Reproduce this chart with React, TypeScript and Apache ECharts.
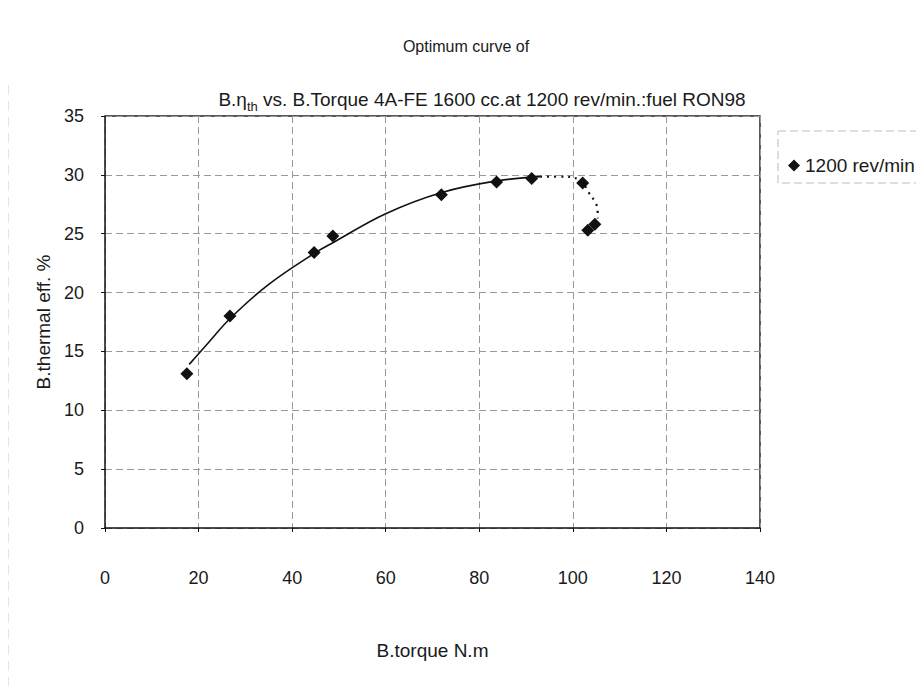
import React, { useEffect, useRef } from "react";
import * as echarts from "echarts";

const seriesName = "1200 rev/min";
const torque = [17.5, 26.7, 44.7, 48.7, 71.9, 83.7, 91.2, 102.1, 103.2, 104.7];
const thermalEff = [13.1, 18.0, 23.4, 24.8, 28.3, 29.4, 29.7, 29.3, 25.3, 25.8];

// trend curve (solid part, then dotted end part)
const trendSolidX = [18, 22, 27, 35, 45, 49, 60, 72, 84, 93];
const trendSolidY = [13.9, 15.7, 17.9, 20.7, 23.4, 24.3, 26.7, 28.5, 29.5, 29.85];
const trendDotX = [93, 97, 101.5, 103.2, 104.7, 105.3, 105.3];
const trendDotY = [29.85, 29.85, 29.6, 28.6, 27.7, 27.0, 26.3];

const xTicks = { min: 0, max: 140, interval: 20 };
const yTicks = { min: 0, max: 35, interval: 5 };

const FONT = "'Liberation Sans', Arial, sans-serif";
const INK = "#1a1a1a";

export default function App() {
  const ref = useRef<HTMLDivElement>(null);
  useEffect(() => {
    if (!ref.current) return;
    const chart = echarts.init(ref.current, undefined, { renderer: "svg" });
    const pts = torque.map((x, i) => [x, thermalEff[i]]);
    const solid = trendSolidX.map((x, i) => [x, trendSolidY[i]]);
    const dotted = trendDotX.map((x, i) => [x, trendDotY[i]]);
    chart.setOption({
      animation: false,
      backgroundColor: "#fff",
      textStyle: { fontFamily: FONT },
      title: [
        {
          text: "Optimum curve of",
          left: 461,
          top: 33,
          textAlign: "center",
          textStyle: { fontSize: 16, fontWeight: "normal", color: INK, fontFamily: FONT },
        },
        {
          text: "{a|B.η}{s|th}{a| vs. B.Torque 4A-FE 1600 cc.at 1200 rev/min.:fuel RON98}",
          left: 477,
          top: 82,
          textAlign: "center",
          textStyle: {
            fontSize: 19,
            fontWeight: "normal",
            color: INK,
            fontFamily: FONT,
            rich: {
              a: { fontSize: 19, color: INK, fontFamily: FONT, verticalAlign: "bottom", lineHeight: 22 },
              s: { fontSize: 13, color: INK, fontFamily: FONT, verticalAlign: "bottom", lineHeight: 14, padding: [0, 0, -4, 0] },
            },
          },
        },
      ],
      grid: { left: 105, right: 164, top: 116, bottom: 166 },
      legend: {
        left: 783,
        top: 151,
        icon: "diamond",
        itemWidth: 12,
        itemHeight: 12,
        itemGap: 6,
        data: [seriesName],
        textStyle: { fontSize: 19, color: INK, fontFamily: FONT },
      },
      xAxis: {
        type: "value",
        ...xTicks,
        name: "B.torque N.m",
        nameLocation: "middle",
        nameGap: 113,
        nameTextStyle: { fontSize: 19, color: INK, fontFamily: FONT },
        axisLine: { show: true, onZero: false, lineStyle: { color: "#111", width: 1.5 } },
        axisTick: { show: true, length: 4, lineStyle: { color: "#111" } },
        axisLabel: { margin: 41, fontSize: 18, color: INK, fontFamily: FONT },
        splitLine: { show: true, lineStyle: { color: "#999", width: 1, type: [7, 4] } },
      },
      yAxis: {
        type: "value",
        ...yTicks,
        name: "B.thermal eff. %",
        nameLocation: "middle",
        nameGap: 47,
        nameRotate: 90,
        nameTextStyle: { fontSize: 19, color: INK, fontFamily: FONT },
        axisLine: { show: true, onZero: false, lineStyle: { color: "#111", width: 1.5 } },
        axisTick: { show: true, length: 4, lineStyle: { color: "#111" } },
        axisLabel: { margin: 21, fontSize: 18, color: INK, fontFamily: FONT },
        splitLine: { show: true, lineStyle: { color: "#999", width: 1, type: [7, 4] } },
      },
      graphic: [
        {
          type: "rect",
          shape: { x: 778, y: 131, width: 160, height: 52 },
          style: { fill: "none", stroke: "#bbb", lineWidth: 1, lineDash: [8, 4] },
          silent: true,
        },
        {
          type: "line",
          shape: { x1: 8, y1: 85, x2: 8, y2: 694 },
          style: { stroke: "#ccc", lineWidth: 1, lineDash: [10, 6] },
          silent: true,
        },
        {
          type: "polyline",
          shape: { points: [[105, 116], [760, 116], [760, 528]] },
          style: { fill: "none", stroke: "#222", lineWidth: 1.5 },
          silent: true,
        },
      ],
      series: [
        {
          name: "trend",
          type: "line",
          data: solid,
          smooth: 0.4,
          showSymbol: false,
          symbol: "none",
          lineStyle: { color: "#111", width: 1.6 },
          silent: true,
          z: 2,
        },
        {
          name: "trend dotted",
          type: "line",
          data: dotted,
          smooth: true,
          showSymbol: false,
          symbol: "none",
          lineStyle: { color: "#111", width: 2.2, type: [2, 5] },
          silent: true,
          z: 2,
        },
        {
          name: seriesName,
          type: "scatter",
          data: pts,
          symbol: "diamond",
          symbolSize: 13,
          itemStyle: { color: "#111", opacity: 1 },
          z: 3,
        },
      ],
    });
    return () => chart.dispose();
  }, []);
  return <div ref={ref} style={{ width: 924, height: 694, margin: -8 }} />;
}
